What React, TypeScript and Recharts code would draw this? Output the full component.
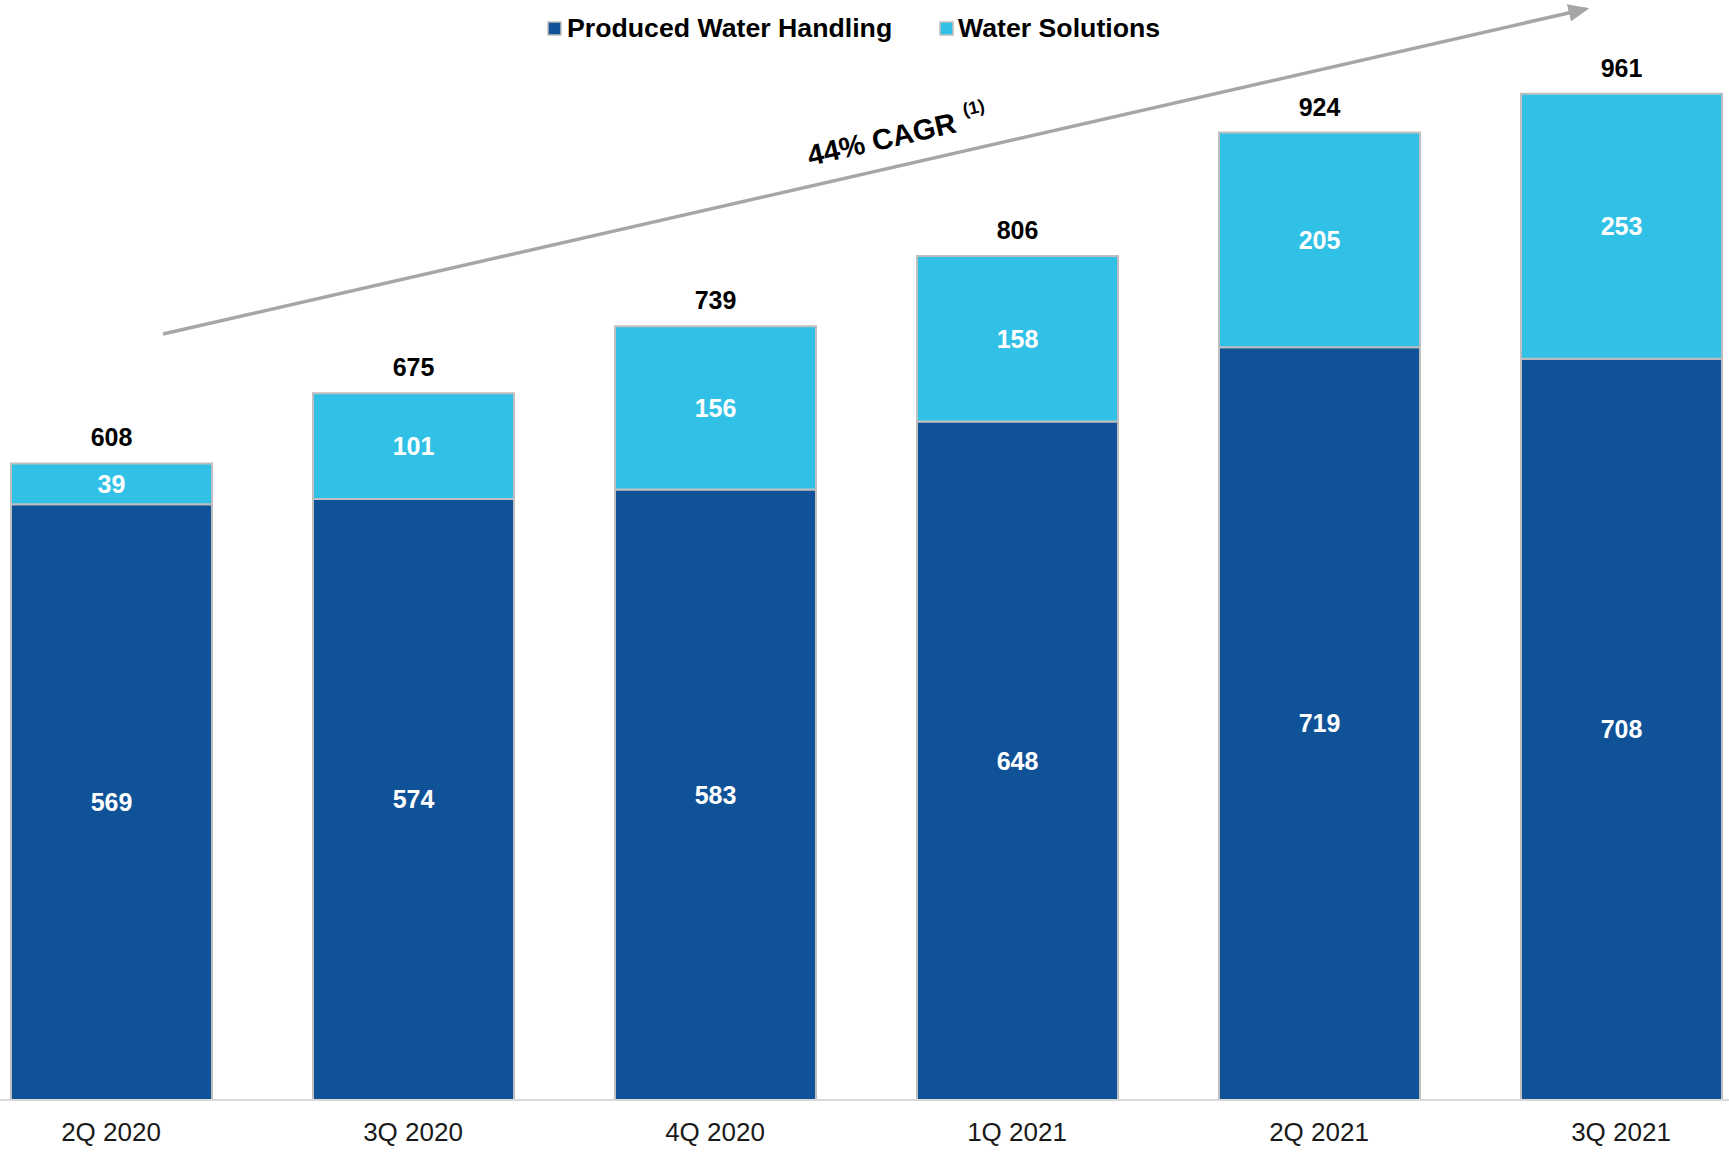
import { Bar, BarChart, Customized, LabelList, XAxis, YAxis } from "recharts"

const quarters = ["2Q 2020", "3Q 2020", "4Q 2020", "1Q 2021", "2Q 2021", "3Q 2021"]
const producedWater = [569, 574, 583, 648, 719, 708]
const waterSolutions = [39, 101, 156, 158, 205, 253]
const totals = [608, 675, 739, 806, 924, 961]

const FONT = "'Liberation Sans', Arial, sans-serif"
const DARK = "#0F5298"
const LIGHT = "#32C1E6"
// chart is shifted left so the first bar sits near the page edge
const SHIFT = 40

const data = quarters.map((q, i) => ({
  quarter: q,
  produced: producedWater[i],
  solutions: waterSolutions[i],
  total: totals[i],
}))

function Annotations() {
  const px = (x: number) => x + SHIFT
  return (
    <g fontFamily={FONT}>
      <defs>
        <marker id="cagrArrow" markerWidth="6" markerHeight="5" refX="5" refY="2.5" orient="auto" markerUnits="strokeWidth">
          <path d="M0,0 L6,2.5 L0,5 z" fill="#A6A6A6" />
        </marker>
      </defs>
      <line x1={px(163)} y1={334} x2={px(1586)} y2={9} stroke="#A6A6A6" strokeWidth={3.5} markerEnd="url(#cagrArrow)" />
      <text x={px(810)} y={166} transform={`rotate(-13, ${px(810)}, 166)`} fontSize={29} fontWeight="bold" fill="#000">
        44% CAGR
        <tspan fontSize={18} dx={10} dy={-14}>(1)</tspan>
      </text>

      {/* legend */}
      <rect x={px(548)} y={22} width={13} height={13} fill={DARK} stroke="#BFBFBF" strokeWidth={1.5} />
      <text x={px(567)} y={37} fontSize={26.7} fontWeight="bold" fill="#000">Produced Water Handling</text>
      <rect x={px(940)} y={22} width={13} height={13} fill={LIGHT} stroke="#BFBFBF" strokeWidth={1.5} />
      <text x={px(958)} y={37} fontSize={26.7} fontWeight="bold" fill="#000">Water Solutions</text>
    </g>
  )
}

const QuarterTick = (props: any) => {
  const { x, y, payload } = props
  return (
    <text x={x} y={y} dy={41} textAnchor="middle" fontSize={26} fill="#1a1a1a" fontFamily={FONT}>
      {payload.value}
    </text>
  )
}

export default function App() {
  return (
    <div style={{ position: "absolute", left: 0, top: 0, width: 1729, height: 1153, overflow: "hidden", background: "#fff" }}>
      <div style={{ position: "relative", left: -SHIFT, fontFamily: FONT }}>
        <BarChart width={1812} height={1153} data={data} margin={{ top: 53, right: 0, left: 0, bottom: 0 }} barSize={201}>
          <XAxis
            dataKey="quarter"
            height={53}
            axisLine={{ stroke: "#D9D9D9", strokeWidth: 2 }}
            tickLine={false}
            tickSize={0}
            tickMargin={0}
            tick={<QuarterTick />}
            interval={0}
          />
          <YAxis hide domain={[0, 1000]} />
          <Bar dataKey="produced" stackId="a" fill={DARK} stroke="#BFBFBF" strokeWidth={2} isAnimationActive={false}>
            <LabelList dataKey="produced" position="center" fill="#fff" fontSize={25} fontWeight="bold" fontFamily={FONT} />
          </Bar>
          <Bar dataKey="solutions" stackId="a" fill={LIGHT} stroke="#BFBFBF" strokeWidth={2} isAnimationActive={false}>
            <LabelList dataKey="solutions" position="center" fill="#fff" fontSize={25} fontWeight="bold" fontFamily={FONT} />
            <LabelList dataKey="total" position="top" offset={17} fill="#000" fontSize={25} fontWeight="bold" fontFamily={FONT} />
          </Bar>
          <Customized component={Annotations} />
        </BarChart>
      </div>
    </div>
  )
}
